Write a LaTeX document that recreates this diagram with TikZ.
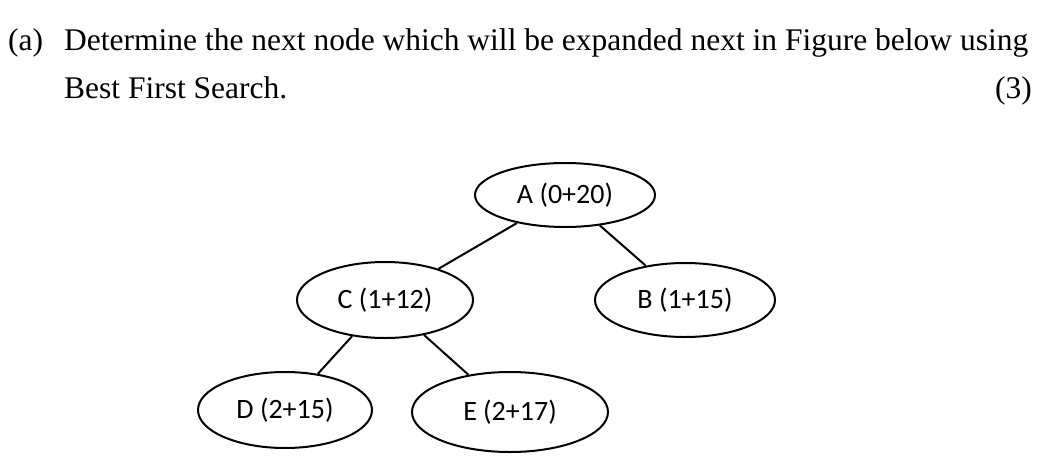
\documentclass[tikz,border=0pt]{standalone}
\usepackage{fontspec}
\setmainfont{Liberation Serif}
\newfontfamily\labfont{Carlito}
\usetikzlibrary{shapes.geometric}
\begin{document}
\begin{tikzpicture}[x=1pt,y=-1pt,
  nd/.style={draw,ellipse,line width=2pt,minimum width=#1,font=\labfont\fontsize{28}{32}\selectfont,inner sep=0pt},
  ed/.style={line width=2pt},
  txt/.style={anchor=base west,inner sep=0pt,font=\fontsize{31.5}{36}\selectfont}]
\useasboundingbox (0,0) rectangle (1046,458);
\node[txt] (t0) at (8,50) {(a)};
\node[txt] (t1) at (64,50) {Determine the next node which will be expanded next in Figure below using};
\node[txt] (t2) at (64,98) {Best First Search.};
\node[txt,anchor=base east] (t3) at (1032,98) {(3)};
\node[nd=180pt,minimum height=64pt] (A) at (565,195) {A (0+20)};
\node[nd=176pt,minimum height=76pt] (C) at (385,300) {C (1+12)};
\node[nd=180pt,minimum height=74pt] (B) at (685,300) {B (1+15)};
\node[nd=174pt,minimum height=76pt] (D) at (285,410) {D (2+15)};
\node[nd=196pt,minimum height=80pt] (E) at (510,412) {E (2+17)};
\draw[ed] (A) -- (C);
\draw[ed] (A) -- (B);
\draw[ed] (C) -- (D);
\draw[ed] (C) -- (E);
\end{tikzpicture}
\end{document}
